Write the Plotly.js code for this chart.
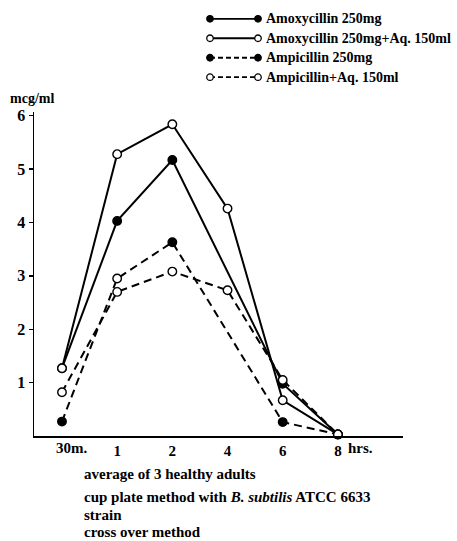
<!DOCTYPE html>
<html>
<head>
<meta charset="utf-8">
<script src="https://cdn.plot.ly/plotly-3.0.1.min.js"></script>
<style>html,body{margin:0;padding:0;background:#fff;}#chart{width:457px;height:541px;}</style>
</head>
<body>
<div id="chart"></div>
<script>
// ---- data ----
const timeLabels = ['30m.', '1', '2', '4', '6', '8'];
const amox250   = [1.27, 4.03, 5.17, null, 0.98, 0.03];
const amoxAq    = [1.27, 5.28, 5.84, 4.26, 0.67, 0.03];
const ampi250   = [0.27, 2.95, 3.63, null, 0.26, 0.03];
const ampiAq    = [0.82, 2.70, 3.08, 2.73, 1.05, 0.03];
const seriesNames = ['Amoxycillin 250mg', 'Amoxycillin 250mg+Aq. 150ml', 'Ampicillin 250mg', 'Ampicillin+Aq. 150ml'];
const yTicks = [1, 2, 3, 4, 5, 6];
const notes = ['average of 3 healthy adults',
               'cup plate method with <i>B. subtilis</i> ATCC 6633',
               'strain',
               'cross over method'];

const W = 457, H = 541;
const xIdx = timeLabels.map((_, i) => i);
const FONT = 'Liberation Serif, DejaVu Serif, serif';

const styles = [
  {dash: 'solid', open: false},
  {dash: 'solid', open: true},
  {dash: '8px,5px', open: false},
  {dash: '8px,5px', open: true}
];
const seriesData = [amox250, amoxAq, ampi250, ampiAq];

function mk(st, n, override) {
  const fill = st.open ? '#ffffff' : '#000000';
  const colors = [];
  for (let i = 0; i < n; i++) colors.push(override && override[i] ? override[i] : fill);
  return {size: 8.5, color: colors, line: {color: '#000', width: 1.4}};
}

const traces = [];
// filled series first, open series on top
[0, 2, 1, 3].forEach(k => {
  const st = styles[k];
  const over = (k === 2) ? [null, '#ffffff', null, null, null, null] : null;
  traces.push({
    x: xIdx, y: seriesData[k], type: 'scatter', mode: 'lines+markers',
    name: seriesNames[k], connectgaps: true, cliponaxis: false,
    line: {color: '#000', width: 2, dash: st.dash},
    marker: mk(st, xIdx.length, over),
    xaxis: 'x', yaxis: 'y', showlegend: false, hoverinfo: 'skip'
  });
});

// custom legend glyphs (line with markers at both ends)
seriesNames.forEach((nm, k) => {
  const st = styles[k];
  traces.push({
    x: [0, 1], y: [k, k], type: 'scatter', mode: 'lines+markers',
    line: {color: '#000', width: 1.8, dash: st.dash === 'solid' ? 'solid' : '5px,3px'},
    marker: {size: 6.5, color: st.open ? '#fff' : '#000', line: {color: '#000', width: 1.3}},
    xaxis: 'x2', yaxis: 'y2', showlegend: false, hoverinfo: 'skip', cliponaxis: false
  });
});

const annotations = [];
seriesNames.forEach((nm, k) => {
  annotations.push({
    text: nm, xref: 'paper', yref: 'y2', x: 264 / W, y: k,
    xanchor: 'left', yanchor: 'middle', showarrow: false,
    font: {family: FONT, size: 14, color: '#000', weight: 'bold'}
  });
});
annotations.push({
  text: 'mcg/ml', xref: 'paper', yref: 'paper', x: 32 / W, y: 1 - 99 / H,
  xanchor: 'center', yanchor: 'middle', showarrow: false,
  font: {family: FONT, size: 14, color: '#000', weight: 'bold'}
});
annotations.push({
  text: timeLabels[0], xref: 'x', yref: 'paper', x: 0, y: 1 - 448 / H,
  xanchor: 'left', yanchor: 'middle', xshift: -8, showarrow: false,
  font: {family: FONT, size: 15, color: '#000', weight: 'bold'}
});
annotations.push({
  text: 'hrs.', xref: 'x', yref: 'paper', x: 5, y: 1 - 448 / H,
  xanchor: 'left', yanchor: 'middle', xshift: 8, showarrow: false,
  font: {family: FONT, size: 15, color: '#000', weight: 'bold'}
});
const noteY = [474, 497, 515, 532];
notes.forEach((t, i) => {
  annotations.push({
    text: t, xref: 'paper', yref: 'paper', x: 83 / W, y: 1 - noteY[i] / H,
    xanchor: 'left', yanchor: 'middle', showarrow: false, borderpad: 0,
    font: {family: FONT, size: 15, color: '#000', weight: 'bold'}
  });
});

const layout = {
  width: W, height: H,
  margin: {l: 0, r: 0, t: 0, b: 0},
  paper_bgcolor: '#fff', plot_bgcolor: 'rgba(0,0,0,0)',
  showlegend: false,
  xaxis: {
    domain: [34 / W, 403 / W], range: [-0.507, 6.18],
    tickvals: xIdx.slice(1), ticktext: timeLabels.slice(1),
    showline: true, linecolor: '#000', linewidth: 2,
    showgrid: false, zeroline: false, ticks: '',
    tickfont: {family: FONT, size: 15, color: '#000', weight: 'bold'}
  },
  yaxis: {
    domain: [1 - 436 / H, 1 - 112 / H], range: [0, 6.07],
    tickvals: yTicks, ticktext: yTicks.map(String),
    showline: true, linecolor: '#000', linewidth: 1.5,
    showgrid: false, zeroline: false, ticks: 'outside', ticklen: 4, tickwidth: 1.3, tickcolor: '#000',
    tickfont: {family: FONT, size: 16, color: '#000', weight: 'bold'}
  },
  xaxis2: {domain: [210 / W, 258 / W], range: [0, 1], visible: false, fixedrange: true},
  yaxis2: {domain: [1 - 85 / H, 1 - 11 / H], range: [3.4, -0.4], visible: false, fixedrange: true},
  annotations: annotations
};

Plotly.newPlot('chart', traces, layout, {staticPlot: true, displayModeBar: false});
</script>
</body>
</html>
